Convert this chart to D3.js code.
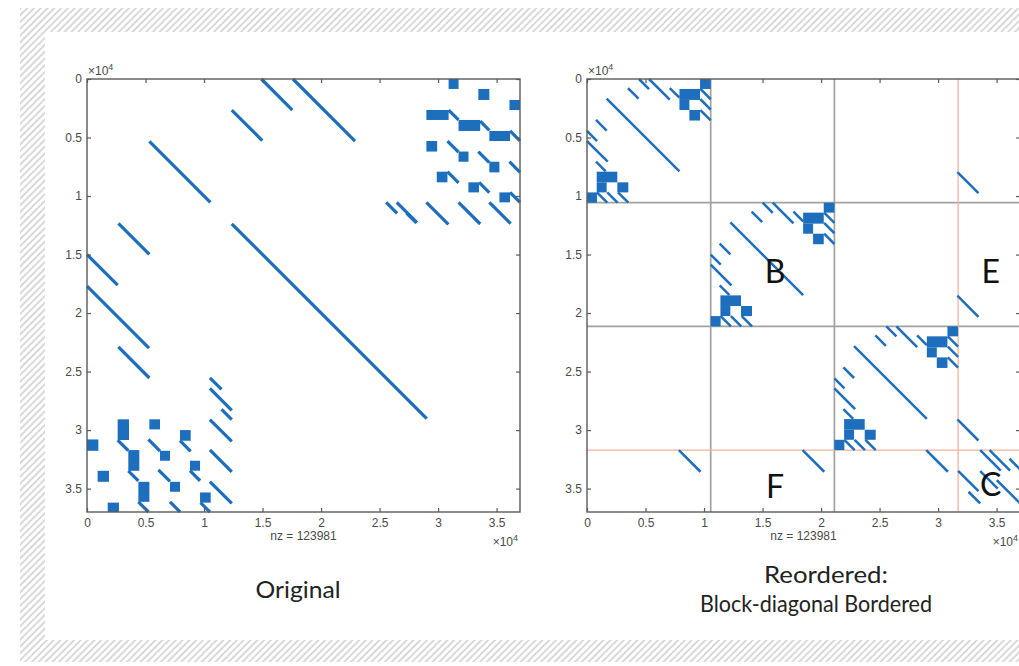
<!DOCTYPE html>
<html>
<head>
<meta charset="utf-8">
<script src="https://cdn.jsdelivr.net/npm/d3@7"></script>
<style>
  body { margin: 0; background: #fff; }
  svg { display: block; }
  .tick text { font-family: "Liberation Sans", Arial, sans-serif; font-size: 12px; fill: #4a4a4a; }
  .tick line { stroke: #5a5a5a; stroke-width: 1.2; }
  .small { font-family: "Liberation Sans", Arial, sans-serif; font-size: 12px; fill: #4a4a4a; }
  .title { font-family: Lato, "Open Sans", sans-serif; font-size: 24px; fill: #222; }
  .part { font-family: Lato, "Open Sans", sans-serif; font-size: 32px; fill: #111; }
</style>
</head>
<body>
<svg id="chart"></svg>
<script>
// matrix size and ticks
const n = 37000;
const tickValues = [0, 5000, 10000, 15000, 20000, 25000, 30000, 35000];
const nzCount = 123981;

// original matrix: diagonal runs [col0, row0, col1, row1]
const origSegments = [
  [14900, 0, 17550, 2650],
  [17600, 0, 22900, 5300],
  [12370, 2650, 14980, 5260],
  [5330, 5330, 10540, 10540],
  [2680, 12330, 5330, 14980],
  [12370, 12370, 29030, 29030],
  [0, 15000, 2620, 17620],
  [0, 17700, 5300, 23000],
  [2680, 22900, 5330, 25550],
  [10500, 25530, 11500, 26530],
  [10500, 26440, 12370, 28310],
  [11500, 28230, 12370, 29100],
  [10500, 29100, 12370, 30970],
  [10500, 31700, 12370, 33570],
  [10500, 34400, 12370, 36270],
  [25560, 10540, 26500, 11480],
  [26470, 10540, 28200, 12270],
  [27300, 11450, 28150, 12300],
  [29000, 10540, 30880, 12420],
  [31750, 10540, 33600, 12390],
  [34380, 10540, 36200, 12360],
  [30900, 2650, 31750, 3500],
  [33600, 3600, 34380, 4380],
  [36150, 4440, 37000, 5290],
  [30800, 5300, 31750, 6250],
  [33440, 6200, 34380, 7140],
  [36100, 7070, 37000, 7970],
  [30800, 7920, 31750, 8870],
  [33500, 8830, 34380, 9710],
  [36150, 9690, 37000, 10540],
  [2620, 30850, 3530, 31760],
  [3530, 33480, 4390, 34340],
  [4390, 36130, 5260, 37000],
  [5240, 30800, 6240, 31800],
  [6100, 33400, 7090, 34390],
  [7090, 36130, 7950, 36990],
  [7950, 30910, 8860, 31820],
  [8800, 33470, 9660, 34330],
  [9700, 36200, 10500, 37000]
];

// original matrix: dense blocks [col, row, width, height]
const origBlocks = [
  [30900, 0, 850, 850],
  [33440, 850, 940, 940],
  [36100, 1790, 900, 860],
  [29000, 2650, 1900, 850],
  [31750, 3500, 1850, 940],
  [34380, 4440, 1770, 860],
  [29000, 5300, 920, 900],
  [31750, 6200, 850, 870],
  [34380, 7070, 860, 910],
  [29890, 7920, 910, 910],
  [32590, 8830, 910, 860],
  [35240, 9690, 910, 850],
  [0, 30800, 970, 970],
  [910, 33480, 970, 940],
  [1770, 36200, 960, 800],
  [2620, 29080, 970, 1770],
  [3530, 31710, 940, 1770],
  [4390, 34420, 940, 1710],
  [5330, 29080, 910, 860],
  [6240, 31770, 850, 850],
  [7090, 34420, 860, 850],
  [7950, 30000, 910, 910],
  [8800, 32620, 860, 850],
  [9660, 35330, 910, 870]
];

// reordered matrix: the three diagonal blocks share one pattern
const blockStarts = [0, 10570, 21140];
const blockSegments = [
  [4440, 0, 5300, 860],
  [5300, 0, 7070, 1770],
  [3500, 770, 4400, 1670],
  [7070, 770, 7900, 1600],
  [1680, 1680, 7900, 7900],
  [770, 3500, 1680, 4410],
  [0, 4440, 860, 5300],
  [0, 5300, 1770, 7070],
  [770, 7070, 1600, 7900],
  [9690, 850, 10570, 1730],
  [9690, 1730, 10570, 2610],
  [9690, 2650, 10570, 3530],
  [850, 9690, 1730, 10570],
  [1730, 9690, 2610, 10570],
  [2650, 9690, 3530, 10570]
];
const blockBlocks = [
  [9660, 0, 910, 850],
  [7900, 850, 1760, 940],
  [7900, 1790, 850, 860],
  [8750, 2650, 910, 900],
  [830, 7920, 1760, 910],
  [830, 8830, 850, 860],
  [2590, 8830, 940, 860],
  [0, 9690, 850, 880]
];
// border couplings: right column (rows relative to block), bottom row (cols relative to block)
const borderRight = [31650, 7950, 33450, 9750];
const borderBottom = [7850, 31710, 9700, 33560];
const cornerSegments = [
  [33600, 31710, 35350, 33460],
  [34400, 31710, 36150, 33460],
  [36100, 32450, 37000, 33350],
  [31710, 33480, 33450, 35220],
  [32600, 35270, 33600, 36270],
  [35020, 34270, 37000, 36250],
  [33600, 33500, 35100, 35000]
];
const greySplits = [10570, 21140];
const borderSplit = 31710;
const partLabels = ["B", "E", "F", "C"];
const partCols = [16070, 34500, 16070, 34500];
const partRows = [16330, 16330, 34700, 34530];

// captions
const captions = ["Original", "Reordered:", "Block-diagonal Bordered"];
const captionWidths = [85, 124, 232];

const W = 1019, H = 666;
const blue = "#1d6ebd";

const svg = d3.select("#chart").attr("width", W).attr("height", H);

// hatched frame
const defs = svg.append("defs");
const pat = defs.append("pattern")
  .attr("id", "hatch")
  .attr("width", 4.8).attr("height", 4.8)
  .attr("patternUnits", "userSpaceOnUse")
  .attr("patternTransform", "rotate(45)");
pat.append("line")
  .attr("x1", 1).attr("y1", 0).attr("x2", 1).attr("y2", 4.8)
  .attr("stroke", "#b4b4b4").attr("stroke-width", 1);

svg.append("rect").attr("x", 20).attr("y", 8).attr("width", W - 20).attr("height", 654).attr("fill", "url(#hatch)");
svg.append("rect").attr("x", 45).attr("y", 32).attr("width", W - 45).attr("height", 608).attr("fill", "#fff");

const y = d3.scaleLinear().domain([0, n]).range([79, 512]);

const makePanel = (x0, lineW) => {
  const x = d3.scaleLinear().domain([0, n]).range([x0, x0 + 433]);
  const g = svg.append("g");
  return { x, g, lineW };
};

const drawMarks = (p, segments, blocks) => {
  p.g.append("g").selectAll("line")
    .data(segments)
    .enter()
    .append("line")
    .attr("x1", (d) => p.x(d[0]))
    .attr("y1", (d) => y(d[1]))
    .attr("x2", (d) => p.x(d[2]))
    .attr("y2", (d) => y(d[3]))
    .attr("stroke", blue)
    .attr("stroke-width", p.lineW);
  p.g.append("g").selectAll("rect")
    .data(blocks)
    .enter()
    .append("rect")
    .attr("x", (d) => p.x(d[0]))
    .attr("y", (d) => y(d[1]))
    .attr("width", (d) => p.x(d[0] + d[2]) - p.x(d[0]))
    .attr("height", (d) => y(d[1] + d[3]) - y(d[1]))
    .attr("fill", blue);
};

const drawAxes = (p) => {
  const x = p.x;
  const fmt = (d) => d / 1e4;
  p.g.append("g")
    .attr("transform", "translate(0," + y(n) + ")")
    .call(d3.axisBottom(x).tickValues(tickValues).tickFormat(fmt).tickSize(-4).tickPadding(6));
  p.g.append("g")
    .attr("transform", "translate(0," + y(0) + ")")
    .call(d3.axisTop(x).tickValues(tickValues).tickFormat("").tickSize(-4));
  p.g.append("g")
    .attr("transform", "translate(" + x(0) + ",0)")
    .call(d3.axisLeft(y).tickValues(tickValues).tickFormat(fmt).tickSize(-4).tickPadding(5));
  p.g.append("g")
    .attr("transform", "translate(" + x(n) + ",0)")
    .call(d3.axisRight(y).tickValues(tickValues).tickFormat("").tickSize(-4));
  p.g.selectAll(".domain").remove();
  p.g.append("rect")
    .attr("x", x(0)).attr("y", y(0))
    .attr("width", x(n) - x(0)).attr("height", y(n) - y(0))
    .attr("fill", "none").attr("stroke", "#5a5a5a").attr("stroke-width", 1.4);

  const exp1 = p.g.append("text").attr("class", "small").attr("x", x(0) + 1).attr("y", y(0) - 4);
  exp1.append("tspan").text("×10");
  exp1.append("tspan").attr("dy", -5).attr("font-size", 9).text("4");
  const exp2 = p.g.append("text").attr("class", "small").attr("text-anchor", "end").attr("x", x(n) - 2).attr("y", y(n) + 34);
  exp2.append("tspan").text("×10");
  exp2.append("tspan").attr("dy", -5).attr("font-size", 9).text("4");
  p.g.append("text").attr("class", "small").attr("text-anchor", "middle")
    .attr("x", (x(0) + x(n)) / 2).attr("y", y(n) + 28)
    .text("nz = " + nzCount);
};

// left: original
const left = makePanel(87, 3.2);
drawMarks(left, origSegments, origBlocks);
drawAxes(left);

// right: reordered
const right = makePanel(587, 2.5);
const xr = right.x;
right.g.append("g").selectAll("path")
  .data(greySplits)
  .enter()
  .append("path")
  .attr("d", (d) => "M" + xr(d) + "," + y(0) + "V" + y(n) + "M" + xr(0) + "," + y(d) + "H" + xr(n))
  .attr("stroke", "#a2a2a2").attr("stroke-width", 1.7).attr("fill", "none");
right.g.append("path")
  .attr("d", "M" + xr(borderSplit) + "," + y(0) + "V" + y(n) + "M" + xr(0) + "," + y(borderSplit) + "H" + xr(n))
  .attr("stroke", "#f3b49c").attr("stroke-width", 1.3).attr("fill", "none");

const rSegs = [];
const rBlocks = [];
blockStarts.forEach((o) => {
  blockSegments.forEach((s) => rSegs.push([s[0] + o, s[1] + o, s[2] + o, s[3] + o]));
  blockBlocks.forEach((b) => rBlocks.push([b[0] + o, b[1] + o, b[2], b[3]]));
  rSegs.push([borderRight[0], borderRight[1] + o, borderRight[2], borderRight[3] + o]);
  rSegs.push([borderBottom[0] + o, borderBottom[1], borderBottom[2] + o, borderBottom[3]]);
});
cornerSegments.forEach((s) => rSegs.push(s));
drawMarks(right, rSegs, rBlocks);
drawAxes(right);

right.g.selectAll(".part")
  .data(partLabels)
  .enter()
  .append("text")
  .attr("class", "part")
  .attr("text-anchor", "middle")
  .attr("dominant-baseline", "central")
  .attr("x", (d, i) => xr(partCols[i]))
  .attr("y", (d, i) => y(partRows[i]))
  .text((d) => d);

// captions under the panels
const capX = [298, 826, 816];
const capY = [598, 583, 612];
svg.selectAll(".title")
  .data(captions)
  .enter()
  .append("text")
  .attr("class", "title")
  .attr("text-anchor", "middle")
  .attr("x", (d, i) => capX[i])
  .attr("y", (d, i) => capY[i])
  .attr("textLength", (d, i) => captionWidths[i])
  .attr("lengthAdjust", "spacingAndGlyphs")
  .text((d) => d);
</script>
</body>
</html>
